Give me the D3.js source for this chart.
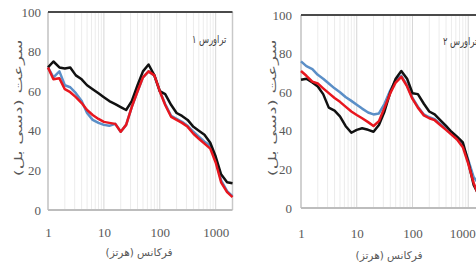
<!DOCTYPE html>
<html>
<head>
<meta charset="utf-8">
<script src="https://cdn.jsdelivr.net/npm/d3@7"></script>
<style>
  body { margin: 0; background: #fff; }
  svg { display: block; }
</style>
</head>
<body>
<svg id="chart"></svg>
<script>
// فرکانس‌ها (هرتز)
const freqs = [1, 1.25, 1.6, 2, 2.5, 3.15, 4, 5, 6.3, 8, 10, 12.5, 16, 20, 25, 31.5, 40, 50, 63, 80,
               100, 125, 160, 200, 250, 315, 400, 500, 630, 800, 1000, 1250, 1600, 2000];

// تراورس ۱
const blackT1 = [72, 75, 72, 71.5, 72, 68, 66, 63, 61, 59, 57, 55, 53.5, 52, 50.5, 55, 63, 70, 73.5, 68,
                 60, 58.5, 53, 49, 47.5, 45.5, 42, 40, 38, 34, 27, 18, 14, 13.5];
const blueT1  = [72, 67, 70, 63, 62, 59, 55, 49, 45.5, 44, 43, 42.5, 43.5, 39.5, 43, 52, 60, 67, 70, 68,
                 60, 53.5, 47.5, 46, 44.5, 42.5, 39.5, 37, 34.5, 32.5, 25.5, 15, 9.5, 7];
const redT1   = [72, 66, 66.5, 61, 59.5, 57, 54, 50.5, 48, 46, 44.5, 44, 43.5, 39.5, 43, 52, 60, 67, 70, 68,
                 60, 53, 47, 45.5, 44, 42, 38.5, 36, 33.5, 31, 24, 14, 9, 6.5];

// تراورس ۲
const blackT2 = [66.5, 67, 65, 63, 59, 52, 50.5, 47.5, 42.5, 39, 40.5, 41.3, 40.5, 39.5, 43, 50, 60, 67, 71, 67,
                 59.5, 59, 54, 50, 48.5, 45.5, 42.5, 39.5, 37, 34, 24, 12, 6, 4];
const blueT2  = [76, 73.5, 72, 69, 67, 64.5, 62, 60, 57.5, 55.5, 53.5, 51.5, 49.5, 48.5, 49, 54, 61, 66, 68.5, 63.5,
                 57, 52.5, 48.5, 47, 46, 43.5, 41, 38.5, 36, 32.5, 25, 16, 12, 10];
const redT2   = [71, 68.5, 65.5, 64.5, 62, 59.5, 57, 55, 52.5, 50, 48.2, 46.5, 44.5, 42.5, 45, 52, 59.5, 65, 68, 63,
                 56.5, 52, 48, 46.5, 45.5, 43, 40.5, 38, 35.5, 31.5, 23, 13, 5, 3];

const xTicks = [1, 10, 100, 1000];
const yTicks = [0, 20, 40, 60, 80, 100];
const yTitle = "سرعت (دسی بل)";
const xTitle = "فرکانس (هرتز)";

const width = 476;
const height = 269;
const numFont = "'Liberation Serif', 'DejaVu Serif', serif";
const faFont = "'DejaVu Sans', sans-serif";

const svg = d3.select("#chart")
    .attr("width", width)
    .attr("height", height);

function drawPanel(p) {
    const g = svg.append("g");

    const x = d3.scaleLog().domain([1, 2000]).range([p.left, p.right]);
    const y = d3.scaleLinear().domain([0, 100]).range([p.bottom, p.top]);

    // خطوط شبکه عمودی
    const grid = [];
    for (let k = 1; k <= 1000; k *= 10) {
        for (let m = 1; m <= 9; m++) {
            if (m * k <= 2000) grid.push(m * k);
        }
    }
    g.selectAll(".grid")
        .data(grid)
        .enter()
        .append("line")
        .attr("x1", d => x(d))
        .attr("x2", d => x(d))
        .attr("y1", p.top)
        .attr("y2", p.bottom)
        .attr("stroke", d => xTicks.includes(d) ? "#d6d6d6" : "#ececec")
        .attr("stroke-width", 1);

    // قاب
    g.append("line").attr("x1", p.left).attr("x2", p.left).attr("y1", p.top).attr("y2", p.bottom)
        .attr("stroke", "#c8c8c8").attr("stroke-width", 1.5);
    g.append("line").attr("x1", p.right).attr("x2", p.right).attr("y1", p.top).attr("y2", p.bottom)
        .attr("stroke", "#c8c8c8").attr("stroke-width", 1.5);
    g.append("line").attr("x1", p.left).attr("x2", p.right).attr("y1", p.bottom).attr("y2", p.bottom)
        .attr("stroke", "#bdbdbd").attr("stroke-width", 2);
    g.append("line").attr("x1", p.left).attr("x2", p.right).attr("y1", p.top).attr("y2", p.top)
        .attr("stroke", "#4a4a4a").attr("stroke-width", 2);

    // محورها
    const ax = g.append("g")
        .attr("transform", `translate(0,${p.bottom})`)
        .call(d3.axisBottom(x).tickValues(xTicks).tickFormat(d3.format("d")).tickSize(0).tickPadding(p.xPad));
    const ay = g.append("g")
        .attr("transform", `translate(${p.left},0)`)
        .call(d3.axisLeft(y).tickValues(yTicks).tickSize(0).tickPadding(p.yPad));
    [ax, ay].forEach(a => {
        a.select(".domain").remove();
        a.selectAll("text")
            .attr("fill", "#595959")
            .style("font-family", numFont)
            .style("font-size", "13px");
    });
    // جلوگیری از بریده شدن برچسب آخر در لبه تصویر
    ax.selectAll("text").attr("dx", d => d === 1000 ? p.lastDx : 0);

    const line = d3.line()
        .x((d, i) => x(freqs[i]))
        .y(d => y(d));

    p.series.forEach(s => {
        g.append("path")
            .datum(s.values)
            .attr("fill", "none")
            .attr("stroke", s.color)
            .attr("stroke-width", s.w)
            .attr("stroke-linejoin", "round")
            .attr("d", line);
    });

    // عنوان‌ها
    g.append("text")
        .attr("transform", `translate(${p.titleX},${p.titleY}) scale(0.75,1)`)
        .attr("fill", "#404040")
        .style("font-family", faFont)
        .style("font-size", "11px")
        .text(p.title);

    g.append("text")
        .attr("transform", `translate(${p.yTitleX},${p.yTitleY}) rotate(-90) scale(1.65,1)`)
        .attr("text-anchor", "middle")
        .attr("fill", "#595959")
        .style("font-family", faFont)
        .style("font-size", "11px")
        .text(yTitle);

    g.append("text")
        .attr("x", p.xTitleX)
        .attr("y", p.xTitleY)
        .attr("text-anchor", "middle")
        .attr("fill", "#595959")
        .style("font-family", faFont)
        .style("font-size", "10.5px")
        .text(xTitle);
}

drawPanel({
    left: 48, right: 232.5, top: 12, bottom: 210,
    xPad: 18, yPad: 7, lastDx: 0,
    title: "تراورس ۱", titleX: 192, titleY: 43,
    yTitleX: 22, yTitleY: 108,
    xTitleX: 139, xTitleY: 256,
    series: [
        { values: blueT1, color: "#5b8fc7", w: 2.5 },
        { values: blackT1, color: "#111111", w: 2.5 },
        { values: redT1, color: "#e8161e", w: 2.5 }
    ]
});

drawPanel({
    left: 301, right: 485, top: 15, bottom: 208,
    xPad: 21, yPad: 9, lastDx: -6,
    title: "تراورس ۲", titleX: 443, titleY: 45,
    yTitleX: 276, yTitleY: 108,
    xTitleX: 389, xTitleY: 259,
    series: [
        { values: blueT2, color: "#5b8fc7", w: 2.5 },
        { values: blackT2, color: "#111111", w: 2.5 },
        { values: redT2, color: "#e8161e", w: 2.5 }
    ]
});
</script>
</body>
</html>
